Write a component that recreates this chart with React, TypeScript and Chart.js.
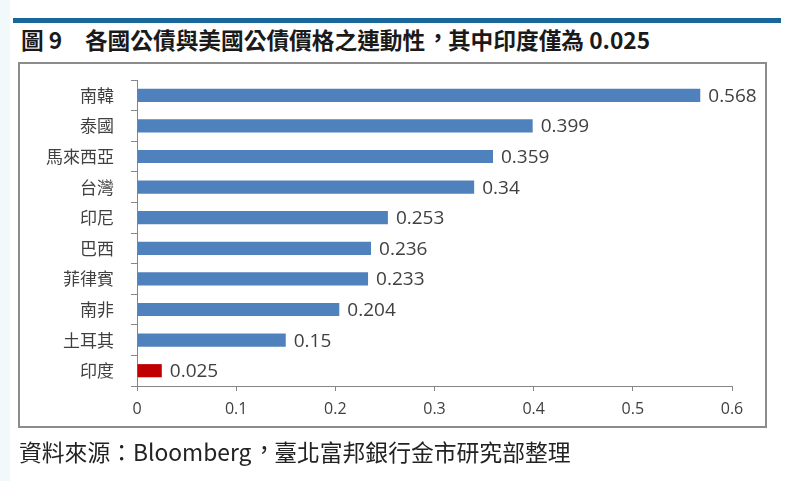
import React, { useEffect, useRef } from "react";
import { Chart, registerables } from "chart.js";

Chart.register(...registerables);

const categories = ["南韓", "泰國", "馬來西亞", "台灣", "印尼", "巴西", "菲律賓", "南非", "土耳其", "印度"];
const values = [0.568, 0.399, 0.359, 0.34, 0.253, 0.236, 0.233, 0.204, 0.15, 0.025];
const barColors = ["#4f81bd", "#4f81bd", "#4f81bd", "#4f81bd", "#4f81bd", "#4f81bd", "#4f81bd", "#4f81bd", "#4f81bd", "#c00000"];
const xTickMin = 0;
const xTickMax = 0.6;
const xTickStep = 0.1;

const titleHead = "圖 9　各國公債與美國公債價格之連動性";
const titleTail = "其中印度僅為 0.025";
const footerHead = "資料來源：Bloomberg";
const footerTail = "臺北富邦銀行金市研究部整理";

const NUM_FONT = '"Open Sans", "Noto Sans CJK TC", sans-serif';
const CJK_FONT = '"Noto Sans CJK TC", "Noto Sans", sans-serif';

const valueLabelPlugin = {
  id: "valueLabels",
  afterDatasetsDraw(chart: any) {
    const ctx = chart.ctx;
    const meta = chart.getDatasetMeta(0);
    ctx.save();
    ctx.font = `19px ${NUM_FONT}`;
    ctx.fillStyle = "#404040";
    ctx.textAlign = "left";
    ctx.textBaseline = "middle";
    meta.data.forEach((bar: any, i: number) => {
      ctx.fillText(String(values[i]), bar.x + 8, bar.y + 1);
    });
    ctx.restore();
  },
};

// Taiwanese-style centred full-width comma, occupying one full em cell
const Comma = () => (
  <span style={{ display: "inline-block", width: "1em", textAlign: "left" }}>
    <span style={{ position: "relative", left: "0.06em", top: "-0.12em" }}>，</span>
  </span>
);

export default function App() {
  const canvasRef = useRef<HTMLCanvasElement | null>(null);

  useEffect(() => {
    document.body.style.margin = "0";
    const canvas = canvasRef.current;
    if (!canvas) return;
    const chart = new Chart(canvas, {
      type: "bar",
      data: {
        labels: categories,
        datasets: [
          {
            data: values,
            backgroundColor: barColors,
            borderWidth: 0,
            categoryPercentage: 1,
            barPercentage: 0.43,
          },
        ],
      },
      options: {
        indexAxis: "y",
        animation: false,
        responsive: false,
        devicePixelRatio: 1,
        layout: { padding: { top: 80, right: 68, left: 0, bottom: 0 } },
        plugins: {
          legend: { display: false },
          tooltip: { enabled: false },
          title: { display: false },
        },
        scales: {
          x: {
            type: "linear",
            min: xTickMin,
            max: xTickMax,
            afterFit: (s: any) => {
              s.height = 95;
            },
            ticks: {
              stepSize: xTickStep,
              color: "#404040",
              font: { size: 16, family: NUM_FONT },
              padding: 9,
              callback: (v: any) => (Number(v) === 0 ? "0" : Number(v).toFixed(1)),
            },
            grid: {
              drawOnChartArea: false,
              drawTicks: true,
              tickLength: 5,
              color: "#868686",
            },
            border: { display: true, color: "#868686", width: 1 },
          },
          y: {
            type: "category",
            afterFit: (s: any) => {
              s.width = 137;
            },
            ticks: {
              color: "#404040",
              font: { size: 17, family: CJK_FONT },
              padding: 17,
            },
            grid: {
              offset: true,
              drawOnChartArea: false,
              drawTicks: true,
              tickLength: 6,
              color: "#868686",
            },
            border: { display: true, color: "#868686", width: 1 },
          },
        },
      },
      plugins: [valueLabelPlugin],
    } as any);
    return () => chart.destroy();
  }, []);

  return (
    <div
      lang="zh-TW"
      style={{
        position: "fixed",
        left: 0,
        top: 0,
        width: 800,
        height: 481,
        background: "#ffffff",
        overflow: "hidden",
      }}
    >
      <div style={{ position: "absolute", left: 0, top: 0, width: 10, height: 481, background: "#f2f9fa" }} />
      <div style={{ position: "absolute", left: 13, top: 18, width: 768, height: 5, background: "#18679a" }} />
      <div
        style={{
          position: "absolute",
          left: 21,
          top: 28,
          fontFamily: CJK_FONT,
          fontWeight: 700,
          fontSize: 22.7,
          lineHeight: "23px",
          color: "#1a1a1a",
          whiteSpace: "pre",
        }}
      >
        {titleHead}
        <Comma />
        {titleTail}
      </div>
      <div
        style={{
          position: "absolute",
          left: 18,
          top: 62,
          width: 749,
          height: 366,
          border: "2px solid #8c8c8c",
          boxSizing: "border-box",
        }}
      />
      <canvas
        ref={canvasRef}
        width={800}
        height={481}
        style={{ position: "absolute", left: 0, top: 0, width: 800, height: 481 }}
      />
      <div
        style={{
          position: "absolute",
          left: 19,
          top: 440,
          fontFamily: CJK_FONT,
          fontSize: 22.8,
          lineHeight: "23px",
          color: "#222222",
          whiteSpace: "pre",
        }}
      >
        {footerHead}
        <Comma />
        {footerTail}
      </div>
    </div>
  );
}
